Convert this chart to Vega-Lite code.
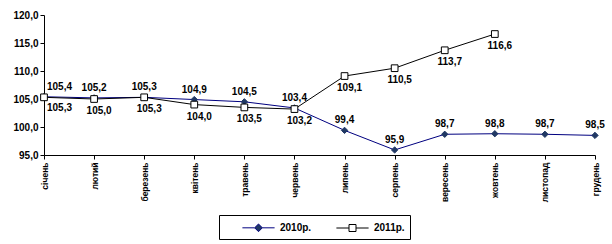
{
  "$schema": "https://vega.github.io/schema/vega-lite/v6.json",
  "width": 551,
  "height": 140,
  "autosize": {"type": "none"},
  "padding": {"left": 44, "top": 15, "right": 17, "bottom": 89},
  "background": "white",
  "config": {
    "locale": {"number": {"decimal": ",", "thousands": " ", "grouping": [3], "currency": ["", ""]}},
    "view": {"stroke": null},
    "font": "Liberation Sans",
    "axis": {"domainColor": "black", "tickColor": "black", "labelColor": "black", "labelFont": "Liberation Sans", "labelFontWeight": "bold", "grid": false, "tickSize": 4, "title": null}
  },
  "data": {"values": [
    {"month": "січень", "series": "2010р.", "value": 105.4},
    {"month": "лютий", "series": "2010р.", "value": 105.2},
    {"month": "березень", "series": "2010р.", "value": 105.3},
    {"month": "квітень", "series": "2010р.", "value": 104.9},
    {"month": "травень", "series": "2010р.", "value": 104.5},
    {"month": "червень", "series": "2010р.", "value": 103.4},
    {"month": "липень", "series": "2010р.", "value": 99.4},
    {"month": "серпень", "series": "2010р.", "value": 95.9},
    {"month": "вересень", "series": "2010р.", "value": 98.7},
    {"month": "жовтень", "series": "2010р.", "value": 98.8},
    {"month": "листопад", "series": "2010р.", "value": 98.7},
    {"month": "грудень", "series": "2010р.", "value": 98.5},
    {"month": "січень", "series": "2011р.", "value": 105.3},
    {"month": "лютий", "series": "2011р.", "value": 105.0},
    {"month": "березень", "series": "2011р.", "value": 105.3},
    {"month": "квітень", "series": "2011р.", "value": 104.0},
    {"month": "травень", "series": "2011р.", "value": 103.5},
    {"month": "червень", "series": "2011р.", "value": 103.2},
    {"month": "липень", "series": "2011р.", "value": 109.1},
    {"month": "серпень", "series": "2011р.", "value": 110.5},
    {"month": "вересень", "series": "2011р.", "value": 113.7},
    {"month": "жовтень", "series": "2011р.", "value": 116.6}
  ]},
  "encoding": {
    "x": {"field": "month", "type": "nominal",
      "sort": ["січень","лютий","березень","квітень","травень","червень","липень","серпень","вересень","жовтень","листопад","грудень"],
      "scale": {"type": "point", "padding": 0},
      "axis": {"labelAngle": -90, "labelFontSize": 8.5, "labelPadding": 3}},
    "y": {"field": "value", "type": "quantitative",
      "scale": {"domain": [95, 120], "nice": false, "zero": false},
      "axis": {"values": [95, 100, 105, 110, 115, 120], "format": ".1f", "labelFontSize": 10, "labelPadding": 2}}
  },
  "layer": [
    {
      "mark": {"type": "line", "strokeWidth": 1},
      "encoding": {
        "color": {"field": "series", "type": "nominal",
          "scale": {"domain": ["2010р.", "2011р."], "range": ["#000080", "#000000"]},
          "legend": {
            "title": null, "orient": "none", "legendX": 175, "legendY": 200,
            "direction": "horizontal", "strokeColor": "black", "padding": 5,
            "symbolSize": 196, "symbolStrokeWidth": 1, "symbolOffset": 27, "labelOffset": 14,
            "columnPadding": 6,
            "labelExpr": "datum.label === '2011р.' ? datum.label + '\u00a0\u00a0\u00a0\u00a0\u00a0\u00a0\u00a0\u00a0\u00a0\u00a0\u00a0\u00a0\u00a0\u00a0\u00a0\u00a0\u00a0\u00a0' : datum.label",
            "labelFont": "Liberation Sans", "labelFontWeight": "bold", "labelFontSize": 10, "labelColor": "black",
            "encode": {"symbols": {"update": {
              "shape": {"signal": "datum.value === '2010р.' ? 'M-2.3,0H-0.55M0.55,0H2.3M0,-0.55L0.55,0L0,0.55L-0.55,0Z' : 'M-2.3,0H-0.5M0.5,0H2.3M-0.5,-0.5H0.5V0.5H-0.5Z'"},
              "fill": {"signal": "datum.value === '2010р.' ? '#203864' : 'white'"},
              "fillOpacity": {"value": 1}
            }}}
          }}
      }
    },
    {
      "transform": [{"filter": "datum.series === '2010р.'"}],
      "mark": {"type": "point", "shape": "diamond", "filled": true, "fill": "#203864", "stroke": "#203864", "opacity": 1, "strokeWidth": 1, "size": 40}
    },
    {
      "transform": [{"filter": "datum.series === '2011р.'"}],
      "mark": {"type": "point", "shape": "square", "filled": false, "fill": "white", "fillOpacity": 1, "stroke": "black", "opacity": 1, "strokeWidth": 1, "size": 45}
    },
    {
      "transform": [{"filter": "datum.series === '2010р.' && datum.month !== 'січень'"}],
      "mark": {"type": "text", "dy": -10, "fontWeight": "bold", "fontSize": 10, "font": "Liberation Sans", "color": "black"},
      "encoding": {"text": {"field": "value", "type": "quantitative", "format": ".1f"}}
    },
    {
      "transform": [{"filter": "datum.series === '2011р.' && datum.month !== 'січень'"}],
      "mark": {"type": "text", "dy": 12, "dx": 5, "fontWeight": "bold", "fontSize": 10, "font": "Liberation Sans", "color": "black"},
      "encoding": {"text": {"field": "value", "type": "quantitative", "format": ".1f"}}
    },
    {
      "transform": [{"filter": "datum.series === '2010р.' && datum.month === 'січень'"}],
      "mark": {"type": "text", "align": "left", "dx": 3, "dy": -10, "fontWeight": "bold", "fontSize": 10, "font": "Liberation Sans", "color": "black"},
      "encoding": {"text": {"field": "value", "type": "quantitative", "format": ".1f"}}
    },
    {
      "transform": [{"filter": "datum.series === '2011р.' && datum.month === 'січень'"}],
      "mark": {"type": "text", "align": "left", "dx": 3, "dy": 11, "fontWeight": "bold", "fontSize": 10, "font": "Liberation Sans", "color": "black"},
      "encoding": {"text": {"field": "value", "type": "quantitative", "format": ".1f"}}
    }
  ]
}
